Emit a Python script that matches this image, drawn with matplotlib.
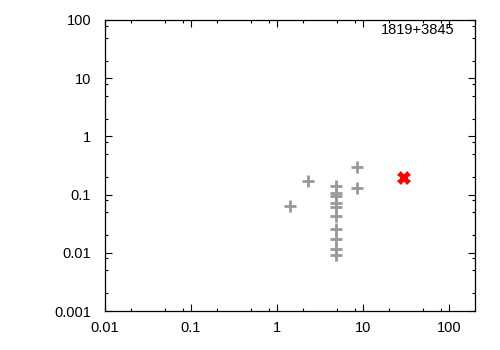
import numpy as np
from matplotlib import pyplot as plt
from matplotlib.ticker import LogLocator, FixedFormatter, NullFormatter

plt.rcParams['font.family'] = ['Liberation Sans', 'DejaVu Sans']

# data
gray_x = [8.45, 2.29, 1.42, 4.85, 4.85, 4.85, 4.85, 4.85, 4.85, 4.85, 4.85, 4.85, 4.85, 8.45]
gray_y = [0.30, 0.171, 0.0645, 0.142, 0.105, 0.0935, 0.071, 0.062, 0.0434, 0.0257, 0.0175, 0.0116, 0.00916, 0.131]
red_x = [30.0]
red_y = [0.195]
label = "1819+3845"

x_ticks = [0.01, 0.1, 1, 10, 100]
x_ticklabels = ["0.01", "0.1", "1", "10", "100"]
y_ticks = [0.001, 0.01, 0.1, 1, 10, 100]
y_ticklabels = ["0.001", "0.01", "0.1", "1", "10", "100"]

fig = plt.figure(figsize=(5, 3.5), dpi=100)
ax = fig.add_axes([0.21, 0.1114, 0.74, 0.8315])

ax.plot(gray_x, gray_y, linestyle='none', marker='+', markersize=8,
        markeredgewidth=2, color='#999999')
# thick red cross, drawn as a filled X over a small square
ax.plot(red_x, red_y, linestyle='none', marker='X', markersize=10,
        markeredgewidth=0, color='#ff0000')
ax.plot(red_x, red_y, linestyle='none', marker='s', markersize=6,
        markeredgewidth=0, color='#ff0000')

ax.set_xscale('log')
ax.set_yscale('log')
ax.set_xlim(0.01, 200)
ax.set_ylim(0.001, 100)

ax.set_xticks(x_ticks)
ax.set_xticklabels(x_ticklabels)
ax.set_yticks(y_ticks)
ax.set_yticklabels(y_ticklabels)
ax.xaxis.set_minor_locator(LogLocator(base=10, subs=(2, 5, 8)))
ax.yaxis.set_minor_locator(LogLocator(base=10, subs=(2, 5, 8)))
ax.xaxis.set_minor_formatter(NullFormatter())
ax.yaxis.set_minor_formatter(NullFormatter())

ax.tick_params(which='both', direction='in', top=True, right=True,
               labelsize=10.5, width=0.8)
ax.tick_params(which='major', length=5)
ax.tick_params(which='minor', length=2.5)
ax.tick_params(axis='x', which='major', pad=7)
ax.tick_params(axis='y', which='major', pad=10)

for s in ax.spines.values():
    s.set_linewidth(0.9)

ax.text(455 / 500, 1 - 30 / 350, label, transform=fig.transFigure,
        ha='right', va='center', fontsize=10.5)

plt.savefig('out.png', dpi=100)
plt.close()
